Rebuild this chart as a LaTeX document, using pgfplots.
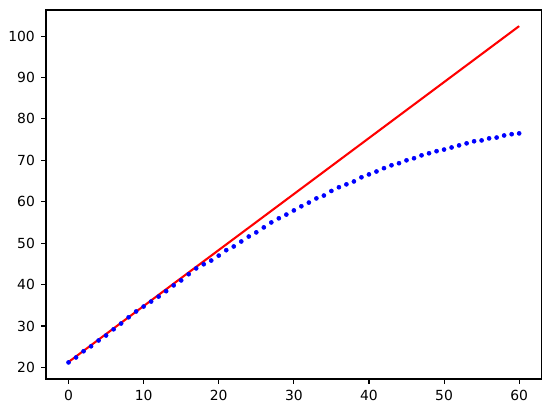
\documentclass[border=0pt]{standalone}
\usepackage{pgfplots}
\pgfplotsset{compat=1.18}
\usepackage{fontspec}
\setmainfont{DejaVu Sans}

\begin{document}
\begin{tikzpicture}
% page is 552 x 413 px at 0.72pt per px
\useasboundingbox (0pt,0pt) rectangle (397.44pt,297.36pt);
\begin{axis}[
  at={(33.12pt,24.48pt)}, anchor=south west,
  scale only axis,
  width=356.9pt, height=265.7pt,
  xmin=-3, xmax=63,
  ymin=17.2, ymax=106.3,
  xtick={0,10,...,60},
  ytick={20,30,...,100},
  tick align=outside,
  tick pos=left,
  major tick length=3.5pt,
  every tick/.style={black, line width=0.8pt},
  axis line style={line width=0.8pt},
  tick label style={font=\fontsize{10}{12}\selectfont},
  /pgf/number format/assume math mode=true,
  xticklabel style={yshift=-1pt},
  yticklabel style={xshift=-1pt},
]
\addplot[only marks, mark=*, mark size=1.45pt, blue, mark options={draw=blue, fill=blue}]
coordinates {
(0,21.2) (1,22.4) (2,23.9) (3,25.1) (4,26.5) (5,27.7) (6,29.2) (7,30.6)
(8,32.1) (9,33.5) (10,34.7) (11,35.9) (12,37.1) (13,38.4) (14,39.8) (15,41.0)
(16,42.5) (17,43.9) (18,44.9) (19,45.8) (20,47.0) (21,48.3) (22,49.2) (23,50.4)
(24,51.6) (25,52.6) (26,53.8) (27,55.0) (28,56.0) (29,56.9) (30,57.9) (31,58.9)
(32,59.8) (33,60.8) (34,61.5) (35,62.6) (36,63.5) (37,64.2) (38,64.9) (39,65.9)
(40,66.6) (41,67.3) (42,68.1) (43,68.8) (44,69.3) (45,70.0) (46,70.5) (47,71.2)
(48,71.7) (49,72.2) (50,72.6) (51,73.1) (52,73.6) (53,74.1) (54,74.6) (55,74.8)
(56,75.3) (57,75.5) (58,76.0) (59,76.3) (60,76.5)
};
\addplot[red, line width=1.5pt, no marks] coordinates {(0,21.3) (60,102.4)};
\end{axis}
\end{tikzpicture}
\end{document}
